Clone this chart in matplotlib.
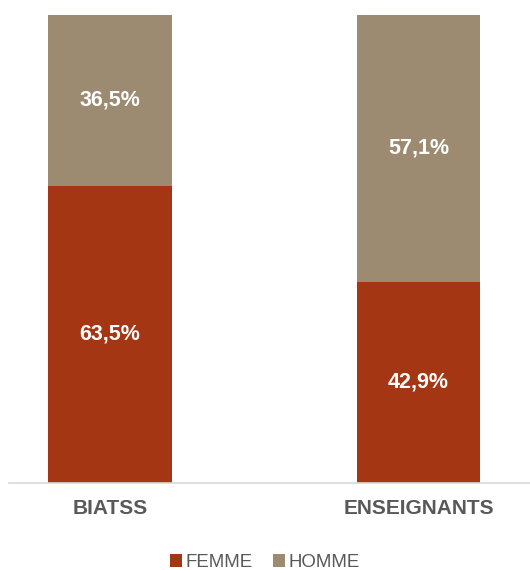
import matplotlib
matplotlib.use('Agg')
import matplotlib.pyplot as plt

categories = ['BIATSS', 'ENSEIGNANTS']
femme = [63.5, 42.9]
homme = [36.5, 57.1]

plt.rcParams['font.family'] = ['Liberation Sans', 'DejaVu Sans']

fig = plt.figure(figsize=(5.3, 5.7), dpi=100)
ax = fig.add_axes([0.017, 0.153, 0.983, 0.821])

x = range(len(categories))
c_f = '#A53613'
c_h = '#9C8B70'
b1 = ax.bar(x, [v / 100 for v in femme], width=0.4, color=c_f, label='FEMME')
b2 = ax.bar(x, [v / 100 for v in homme], width=0.4, bottom=[v / 100 for v in femme],
            color=c_h, label='HOMME')

# etiquettes des valeurs
for i in x:
    f = femme[i] / 100
    h = homme[i] / 100
    ax.text(i, f / 2, ('%.1f%%' % femme[i]).replace('.', ','), ha='center', va='center',
            color='white', fontsize=15.5, fontweight='bold')
    ax.text(i, f + h / 2, ('%.1f%%' % homme[i]).replace('.', ','), ha='center', va='center',
            color='white', fontsize=15.5, fontweight='bold')

ax.set_xlim(-0.327, 1.361)
ax.set_ylim(0, 1)
ax.set_yticks([])
ax.set_xticks(list(x))
ax.set_xticklabels(categories, fontsize=15, fontweight='bold', color='#595959')
ax.tick_params(axis='x', length=0, pad=12)
for s in ['top', 'right', 'left']:
    ax.spines[s].set_visible(False)
ax.spines['bottom'].set_color('#D9D9D9')
ax.spines['bottom'].set_linewidth(1.2)

fig.legend(handles=[b1, b2], loc='center', bbox_to_anchor=(0.5, 0.013), ncol=2, frameon=False,
           fontsize=13.4, labelcolor='#595959', handlelength=0.65, handleheight=0.65,
           handletextpad=0.2, columnspacing=1.1)

plt.savefig('out.png', dpi=100)
